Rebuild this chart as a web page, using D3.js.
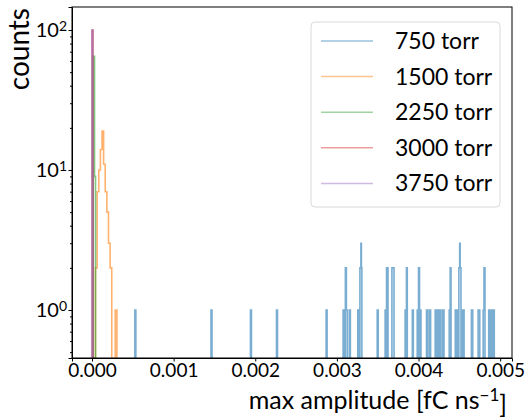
<!DOCTYPE html>
<html>
<head>
<meta charset="utf-8">
<script src="https://cdn.jsdelivr.net/npm/d3@7"></script>
<style>
  body { margin: 0; background: #fff; }
  text { font-family: Lato, "DejaVu Sans", sans-serif; fill: #000; }
</style>
</head>
<body>
<div id="chart"></div>
<script>
// histogram bins: [left edge, right edge, count]
const bins750 = [
  [0.000525, 0.000537, 1], [0.001458, 0.001470, 1], [0.001941, 0.001953, 1],
  [0.002260, 0.002272, 1], [0.002868, 0.002880, 1], [0.003076, 0.003088, 1],
  [0.003104, 0.003116, 2], [0.003116, 0.003128, 1], [0.003153, 0.003165, 1],
  [0.003256, 0.003268, 1], [0.003282, 0.003294, 2], [0.003294, 0.003300, 3],
  [0.003300, 0.003306, 2], [0.003494, 0.003506, 1], [0.003591, 0.003603, 1],
  [0.003608, 0.003626, 2], [0.003674, 0.003700, 2], [0.003836, 0.003848, 1],
  [0.003852, 0.003862, 2], [0.003924, 0.003936, 1], [0.003984, 0.003996, 1],
  [0.004000, 0.004012, 2], [0.004018, 0.004030, 1], [0.004098, 0.004110, 1],
  [0.004132, 0.004148, 1], [0.004204, 0.004216, 1], [0.004222, 0.004234, 1],
  [0.004242, 0.004254, 1], [0.004262, 0.004274, 1], [0.004296, 0.004312, 1],
  [0.004376, 0.004386, 1], [0.004388, 0.004398, 2], [0.004450, 0.004462, 1],
  [0.004468, 0.004480, 1], [0.004494, 0.004504, 2], [0.004504, 0.004510, 3],
  [0.004510, 0.004520, 2], [0.004540, 0.004558, 1], [0.004648, 0.004664, 1],
  [0.004730, 0.004750, 1], [0.004792, 0.004802, 1], [0.004802, 0.004814, 2],
  [0.004860, 0.004872, 1], [0.004878, 0.004890, 1], [0.004896, 0.004908, 1],
  [0.004914, 0.004928, 1]
];
const bins1500 = [
  [0.000043, 0.000063, 2], [0.000063, 0.000083, 7], [0.000083, 0.000103, 10],
  [0.000103, 0.000123, 14], [0.000123, 0.000142, 19], [0.000142, 0.000162, 11],
  [0.000162, 0.000182, 7], [0.000182, 0.000202, 5], [0.000202, 0.000222, 3],
  [0.000222, 0.000242, 2], [0.000285, 0.000305, 1]
];
const bins2250 = [[0.000015, 0.000031, 65], [0.000031, 0.000043, 9]];
const bins3000 = [[0.000002, 0.000012, 100]];
const bins3750 = [[0.000000, 0.000010, 100]];

const seriesNames = ['750 torr', '1500 torr', '2250 torr', '3000 torr', '3750 torr'];
const seriesColors = ['#1f77b4', '#ff7f0e', '#2ca02c', '#d62728', '#9467bd'];
const seriesBins = [bins750, bins1500, bins2250, bins3000, bins3750];

const xTicks = [0, 0.001, 0.002, 0.003, 0.004, 0.005];
const yTicks = [1, 10, 100];
const xDomain = [-0.000245, 0.005145];
const yDomain = [0.454, 146];

const width = 527, height = 417;
const margin = {left: 72, right: 15, top: 7, bottom: 59};
const font = 'Lato, "DejaVu Sans", sans-serif';

const svg = d3.select('#chart').append('svg')
  .attr('width', width)
  .attr('height', height);

const x = d3.scaleLinear().domain(xDomain).range([margin.left, width - margin.right]);
const y = d3.scaleLog().domain(yDomain).range([height - margin.bottom, margin.top]);

svg.append('clipPath').attr('id', 'plot')
  .append('rect')
  .attr('x', margin.left).attr('y', margin.top)
  .attr('width', width - margin.left - margin.right)
  .attr('height', height - margin.top - margin.bottom);

// step outline (like histtype='step'); empty bins fall off the log axis
const floorY = height + 20;
const stepPath = bins => {
  let p = '';
  bins.forEach(([a, b, c], i) => {
    const prev = bins[i - 1];
    if (prev && Math.abs(prev[1] - a) < 1e-9) {
      p += `V${y(c)}H${x(b)}`;
    } else {
      if (p) p += `V${floorY}`;
      p += `M${x(a)},${floorY}V${y(c)}H${x(b)}`;
    }
  });
  return p + `V${floorY}`;
};

svg.append('g')
  .attr('clip-path', 'url(#plot)')
  .selectAll('path')
  .data(seriesBins)
  .enter().append('path')
    .attr('d', d => stepPath(d))
    .attr('fill', 'none')
    .attr('stroke', (d, i) => seriesColors[i])
    .attr('stroke-opacity', 0.6)
    .attr('stroke-width', 1.6);

// axes
const xAxis = svg.append('g')
  .attr('transform', `translate(0,${height - margin.bottom})`)
  .call(d3.axisBottom(x).tickValues(xTicks).tickFormat(d3.format('.3f')).tickSize(3.5).tickPadding(2));
xAxis.selectAll('text').attr('font-size', 19).attr('font-family', font);

const yMinor = [];
[0.1, 1, 10, 100].forEach(p => d3.range(2, 10).forEach(k => {
  const v = p * k;
  if (v >= yDomain[0] && v <= yDomain[1]) yMinor.push(v);
}));
svg.append('g')
  .attr('transform', `translate(${margin.left},0)`)
  .call(d3.axisLeft(y).tickValues(yMinor).tickFormat('').tickSize(2))
  .call(g => g.select('.domain').remove());

const yAxis = svg.append('g')
  .attr('transform', `translate(${margin.left},0)`)
  .call(d3.axisLeft(y).tickValues(yTicks).tickFormat('').tickSize(3.5));
yAxis.selectAll('.tick').append('text')
  .attr('x', -5)
  .attr('dy', '0.32em')
  .attr('text-anchor', 'end')
  .attr('font-size', 20)
  .attr('font-family', font)
  .attr('fill', '#000')
  .each(function(d) {
    const t = d3.select(this);
    t.append('tspan').text('10');
    t.append('tspan').attr('dy', '-0.45em').attr('font-size', 14).text(Math.round(Math.log10(d)));
  });

svg.selectAll('.domain').attr('stroke', '#000');
svg.selectAll('.tick line').attr('stroke', '#000');

// frame
svg.append('rect')
  .attr('x', margin.left).attr('y', margin.top)
  .attr('width', width - margin.left - margin.right)
  .attr('height', height - margin.top - margin.bottom)
  .attr('fill', 'none')
  .attr('stroke', '#000')
  .attr('stroke-width', 1);

// axis labels
svg.append('text')
  .attr('transform', `translate(29,${margin.top + 1}) rotate(-90)`)
  .attr('text-anchor', 'end')
  .attr('font-size', 28)
  .text('counts');

const xl = svg.append('text')
  .attr('x', 507)
  .attr('y', 409)
  .attr('text-anchor', 'end')
  .attr('font-size', 25);
xl.append('tspan').text('max amplitude [fC ns');
xl.append('tspan').attr('dy', '-0.5em').attr('font-size', 17).text('\u22121');
xl.append('tspan').attr('dy', '0.5em').text(']');

// legend
const legend = svg.append('g');
legend.append('rect')
  .attr('x', 311).attr('y', 22)
  .attr('width', 189).attr('height', 185)
  .attr('rx', 4)
  .attr('fill', '#fff').attr('fill-opacity', 0.8)
  .attr('stroke', '#d9d9d9');
const rows = legend.selectAll('g.row')
  .data(seriesNames)
  .enter().append('g')
    .attr('transform', (d, i) => `translate(0,${41 + i * 35.6})`);
rows.append('line')
  .attr('x1', 321).attr('x2', 373)
  .attr('stroke', (d, i) => seriesColors[i])
  .attr('stroke-opacity', 0.45)
  .attr('stroke-width', 1.5);
rows.append('text')
  .attr('x', 395)
  .attr('dy', '0.35em')
  .attr('font-size', 23)
  .text(d => d);
</script>
</body>
</html>
